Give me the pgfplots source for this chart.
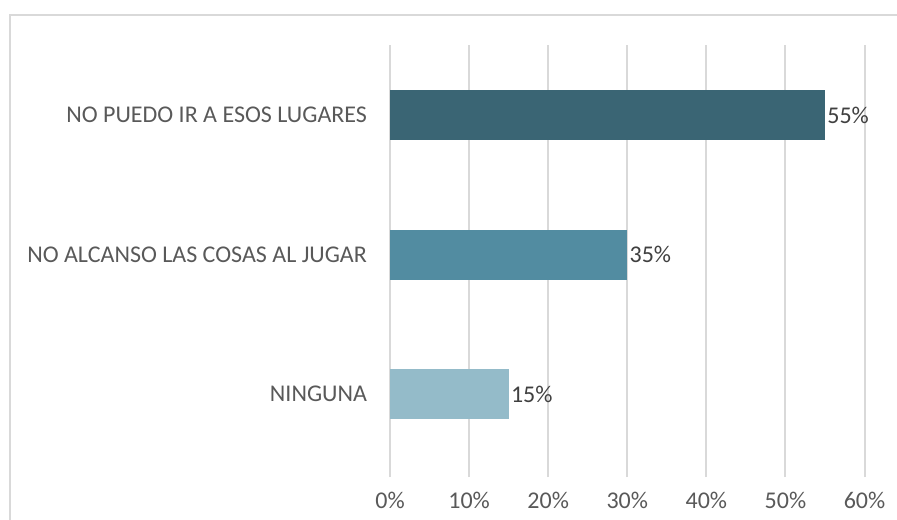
\documentclass[border=0pt]{standalone}
\usepackage{fontspec}
\setmainfont{Carlito}
\usepackage{pgfplots}
\pgfplotsset{compat=1.18}
\definecolor{barA}{HTML}{3A6574}
\definecolor{barB}{HTML}{528CA1}
\definecolor{barC}{HTML}{94BBC9}
\definecolor{gridc}{HTML}{D9D9D9}
\definecolor{labc}{HTML}{595959}
\definecolor{valc}{HTML}{404040}
\begin{document}
\begin{tikzpicture}
% picture area: 897x519 px at 0.5pt per px
\path[use as bounding box] (0,0) rectangle (448.5pt,-259.5pt);
\draw[gridc, line width=1pt] (5pt,-260pt) -- (5pt,-7.5pt) -- (449pt,-7.5pt);
\begin{axis}[
  at={(195pt,-238.5pt)}, anchor=south west,
  scale only axis, width=237.25pt, height=216pt,
  xbar, bar width=25pt, bar shift=0pt,
  xmin=0, xmax=60,
  ymin=-0.595, ymax=2.502,
  xtick={0,10,...,60},
  xticklabel={\pgfmathprintnumber{\tick}\%},
  ytick={0,1,2},
  yticklabels={NINGUNA, NO ALCANSO LAS COSAS AL JUGAR, NO PUEDO IR A ESOS LUGARES},
  axis line style={draw=none},
  major tick length=0pt,
  xmajorgrids, grid style={gridc, line width=1pt},
  tick label style={font=\fontsize{12}{14}\selectfont, text=labc},
  yticklabel style={xshift=-8pt},
  xticklabel style={yshift=-4pt},
  /pgf/number format/assume math mode=true,
  point meta=explicit,
  nodes near coords={\pgfmathprintnumber{\pgfplotspointmeta}\%},
  nodes near coords style={font=\fontsize{12}{14}\selectfont, text=valc, anchor=west, inner xsep=1pt},
  clip=false,
]
\addplot[draw=none, fill=barC] coordinates {(15,0) [15]};
\addplot[draw=none, fill=barB] coordinates {(30,1) [35]};
\addplot[draw=none, fill=barA] coordinates {(55,2) [55]};
\end{axis}
\end{tikzpicture}
\end{document}
